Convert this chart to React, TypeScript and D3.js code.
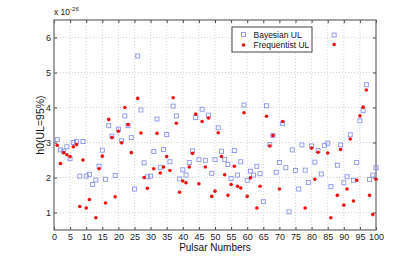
import { useEffect, useRef } from 'react';
import * as d3 from 'd3';

// pulsar index 1..100
const pulsars = d3.range(1, 101);

const bayesianUL: number[] = [
  3.08, 2.79, 2.75, 2.88, 2.54, 3.0, 3.03, 2.04, 3.03, 2.04,
  2.09, 1.8, 1.93, 2.32, 2.78, 1.95, 3.48, 3.18, 2.06, 3.38,
  3.05, 3.76, 3.48, 3.14, 1.67, 5.47, 3.93, 2.42, 2.02, 2.04,
  2.74, 3.67, 2.29, 2.8, 3.23, 2.45, 4.04, 3.76, 1.96, 2.22,
  2.07, 2.43, 2.76, 3.71, 2.51, 3.95, 2.49, 3.78, 2.12, 2.51,
  3.42, 2.75, 2.51, 2.37, 1.97, 2.77, 2.07, 2.45, 4.07, 1.92,
  2.18, 2.07, 2.32, 2.11, 1.31, 4.05, 2.94, 3.2, 2.15, 2.43,
  3.54, 2.28, 1.02, 2.79, 2.2, 1.67, 2.93, 2.21, 1.86, 2.9,
  2.44, 2.77, 2.1, 2.91, 2.98, 1.74, 6.07, 2.35, 2.93, 1.85,
  2.02, 3.22, 1.92, 2.43, 3.62, 3.91, 4.65, 1.94, 2.07, 2.28,
];

const frequentistUL: (number | null)[] = [
  2.92, 2.4, 2.71, 2.65, 2.6, 2.88, 2.94, 1.17, 2.5, 1.13,
  1.37, null, 0.85, 2.25, 2.61, 1.27, 3.66, 3.14, 1.45, 3.32,
  2.99, 4.0, 3.51, 2.71, null, 4.26, 3.27, 2.0, 1.69, null,
  2.25, 3.26, 2.13, 2.3, 2.6, 2.2, 4.28, 3.55, 1.58, 1.9,
  1.85, 2.3, 2.69, 3.81, 1.82, 3.6, 2.3, 3.7, 1.46, 1.61,
  3.28, 2.6, 2.08, 1.49, 1.8, 2.32, 1.75, 1.7, 3.85, 1.46,
  1.99, null, 1.13, 1.75, null, 3.75, 2.9, 3.2, null, 1.67,
  3.6, null, null, null, null, null, null, 1.13, null, 2.84,
  1.95, 2.72, null, null, 2.7, 0.85, 5.8, 1.49, 2.8, 1.21,
  1.67, 3.1, 1.33, 1.92, 3.76, 4.01, 4.5, 1.49, 0.94, 1.95,
];

const xTicks = d3.range(0, 101, 5);
const yTicks = [1, 2, 3, 4, 5, 6];
const legendLabels = ['Bayesian UL', 'Frequentist UL'];

export default function App() {
  const svgRef = useRef<SVGSVGElement>(null);

  useEffect(() => {
    if (!svgRef.current) return;
    const width = 415;
    const height = 260;
    const margin = { top: 20, right: 39, bottom: 30, left: 54 };
    const innerWidth = width - margin.left - margin.right;
    const innerHeight = height - margin.top - margin.bottom;
    const font = 'Liberation Sans, Arial, Helvetica, sans-serif';

    const svg = d3.select(svgRef.current);
    svg.selectAll('*').remove();
    svg.attr('width', width).attr('height', height);

    svg.append('rect').attr('width', width).attr('height', height).attr('fill', '#fff');

    const g = svg.append('g').attr('transform', `translate(${margin.left},${margin.top})`);

    const xScale = d3.scaleLinear().domain([0, 100]).range([0, innerWidth]);
    const yScale = d3.scaleLinear().domain([0.5, 6.5]).range([innerHeight, 0]);

    // dotted grid
    g.append('g')
      .selectAll('line')
      .data(xTicks.slice(1, -1))
      .join('line')
      .attr('x1', (d) => xScale(d))
      .attr('x2', (d) => xScale(d))
      .attr('y1', 0)
      .attr('y2', innerHeight)
      .attr('stroke', '#c8c8c8')
      .attr('stroke-width', 0.8)
      .attr('stroke-dasharray', '1,2');

    g.append('g')
      .selectAll('line')
      .data(yTicks)
      .join('line')
      .attr('x1', 0)
      .attr('x2', innerWidth)
      .attr('y1', (d) => yScale(d))
      .attr('y2', (d) => yScale(d))
      .attr('stroke', '#c8c8c8')
      .attr('stroke-width', 0.8)
      .attr('stroke-dasharray', '1,2');

    // axes (ticks pointing inward)
    const styleAxis = (sel: d3.Selection<SVGGElement, unknown, null, undefined>) => {
      sel.select('.domain').remove();
      sel.selectAll('line').attr('stroke', '#444');
      sel.selectAll('text')
        .attr('fill', '#222')
        .style('font-family', font)
        .style('font-size', '9px');
    };

    g.append('g')
      .attr('transform', `translate(0,${innerHeight})`)
      .call(d3.axisBottom(xScale).tickValues(xTicks).tickSize(-3).tickPadding(4).tickFormat(d3.format('d')))
      .call(styleAxis);

    g.append('g')
      .call(d3.axisTop(xScale).tickValues(xTicks).tickSize(-3).tickFormat(() => ''))
      .call(styleAxis);

    g.append('g')
      .call(d3.axisLeft(yScale).tickValues(yTicks).tickSize(-3).tickPadding(3).tickFormat(d3.format('d')))
      .call(styleAxis);

    g.append('g')
      .attr('transform', `translate(${innerWidth},0)`)
      .call(d3.axisRight(yScale).tickValues(yTicks).tickSize(-3).tickFormat(() => ''))
      .call(styleAxis);

    // box
    g.append('rect')
      .attr('width', innerWidth)
      .attr('height', innerHeight)
      .attr('fill', 'none')
      .attr('stroke', '#666')
      .attr('stroke-width', 1.2);

    // Bayesian squares
    const sq = 4;
    g.append('g')
      .selectAll('rect')
      .data(pulsars)
      .join('rect')
      .attr('x', (d) => xScale(d) - sq / 2)
      .attr('y', (d, i) => yScale(bayesianUL[i]) - sq / 2)
      .attr('width', sq)
      .attr('height', sq)
      .attr('fill', 'none')
      .attr('stroke', '#8a94f2')
      .attr('stroke-width', 0.9);

    // Frequentist dots
    const freq = pulsars
      .map((p, i) => ({ p, v: frequentistUL[i] }))
      .filter((d) => d.v != null) as { p: number; v: number }[];

    g.append('g')
      .selectAll('circle')
      .data(freq)
      .join('circle')
      .attr('cx', (d) => xScale(d.p))
      .attr('cy', (d) => yScale(d.v))
      .attr('r', 1.8)
      .attr('fill', '#ee1111');

    // exponent label
    const exp = svg.append('text')
      .attr('x', margin.left)
      .attr('y', 15)
      .attr('fill', '#222')
      .style('font-family', font)
      .style('font-size', '8.5px');
    exp.append('tspan').text('x 10');
    exp.append('tspan').attr('dy', -4).style('font-size', '6px').text('-26');

    // axis titles
    svg.append('text')
      .attr('x', margin.left + innerWidth / 2)
      .attr('y', 251)
      .attr('text-anchor', 'middle')
      .attr('fill', '#111')
      .style('font-family', font)
      .style('font-size', '10px')
      .text('Pulsar Numbers');

    svg.append('text')
      .attr('transform', `translate(44,${margin.top + innerHeight / 2}) rotate(-90)`)
      .attr('text-anchor', 'middle')
      .attr('fill', '#111')
      .style('font-family', font)
      .style('font-size', '10.5px')
      .text('h0(UL=95%)');

    // legend
    const lg = svg.append('g').attr('transform', 'translate(232,27)');
    lg.append('rect')
      .attr('width', 80)
      .attr('height', 25)
      .attr('fill', '#fff')
      .attr('stroke', '#333')
      .attr('stroke-width', 0.9);
    legendLabels.forEach((label, i) => {
      const y = 7.5 + i * 10.5;
      if (i === 0) {
        lg.append('rect')
          .attr('x', 11.5 - sq / 2)
          .attr('y', y - sq / 2)
          .attr('width', sq)
          .attr('height', sq)
          .attr('fill', 'none')
          .attr('stroke', '#8a94f2')
          .attr('stroke-width', 0.9);
      } else {
        lg.append('circle').attr('cx', 11.5).attr('cy', y).attr('r', 1.8).attr('fill', '#ee1111');
      }
      lg.append('text')
        .attr('x', 21.5)
        .attr('y', y + 3)
        .attr('fill', '#111')
        .style('font-family', font)
        .style('font-size', '8.5px')
        .text(label);
    });
  }, []);

  return (
    <div style={{ position: 'absolute', left: 0, top: 0 }}>
      <svg ref={svgRef} style={{ display: 'block' }} />
    </div>
  );
}
